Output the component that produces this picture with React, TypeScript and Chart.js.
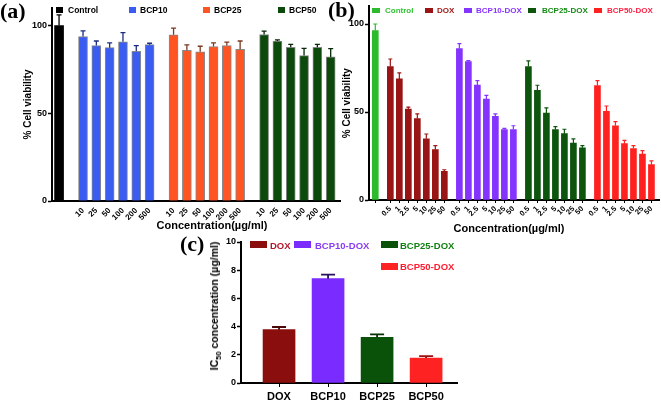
import React, { useEffect, useRef } from 'react';
import { Chart, registerables } from 'chart.js';

Chart.register(...registerables);

const FONT = "'Liberation Sans', Arial, Helvetica, sans-serif";
const SERIF = "'Liberation Serif', 'Times New Roman', serif";

// ---------------- Panel (a) data ----------------
const aConcLabels = ['10', '25', '50', '100', '200', '500'];
const aControl = [100];
const aControlErr = [6.1];
const aBCP10 = [93.7, 88.6, 87.4, 90.7, 85.3, 89.1];
const aBCP10Err = [3.3, 2.6, 2.7, 5.3, 3.3, 0.8];
const aBCP25 = [94.7, 85.9, 85.0, 88.0, 88.6, 86.5];
const aBCP25Err = [3.8, 3.1, 3.2, 2.1, 1.9, 4.7];
const aBCP50 = [94.9, 91.2, 87.6, 82.9, 87.6, 82.1];
const aBCP50Err = [1.9, 0.6, 1.7, 4.1, 1.7, 4.8];
const aYTicks = [0, 50, 100];

// ---------------- Panel (b) data ----------------
const bConcLabels = ['0.5', '1', '2.5', '5', '10', '25', '50'];
const bControl = [96.2];
const bControlErr = [3.8];
const bDOX = [75.8, 68.8, 51.7, 46.2, 34.8, 28.6, 16.3];
const bDOXErr = [4.3, 3.4, 1.1, 2.7, 2.7, 2.3, 0.9];
const bBCP10DOX = [86.0, 78.6, 65.3, 57.4, 47.5, 40.0, 40.0];
const bBCP10DOXErr = [2.8, 0.6, 2.5, 2.1, 1.4, 0.7, 2.2];
const bBCP25DOX = [75.8, 62.3, 49.4, 40.0, 37.7, 32.4, 29.7];
const bBCP25DOXErr = [3.2, 2.9, 2.9, 1.7, 2.5, 2.3, 1.2];
const bBCP50DOX = [65.0, 50.4, 42.2, 32.0, 29.2, 26.1, 20.1];
const bBCP50DOXErr = [2.8, 3.0, 2.3, 1.9, 1.7, 1.9, 2.1];
const bYTicks = [0, 50, 100];

// ---------------- Panel (c) data ----------------
const cLabels = ['DOX', 'BCP10', 'BCP25', 'BCP50'];
const cLegend = ['DOX', 'BCP10-DOX', 'BCP25-DOX', 'BCP50-DOX'];
const cIC50 = [3.78, 7.4, 3.24, 1.77];
const cIC50Err = [0.19, 0.28, 0.21, 0.14];
const cYTicks = [0, 2, 4, 6, 8, 10];

// ---------------- styles ----------------
const aColors = ['#000000', '#3a5cf0', '#ff5522', '#0b4a0b'];
const aErrColors = ['#000000', '#1e2c80', '#7a3a22', '#062806'];
const bColors = ['#2dbb2d', '#991515', '#8533ff', '#0d540d', '#ff2020'];
const bTextColors = ['#33c433', '#a01818', '#8a33ff', '#168a16', '#ff2244'];
const cColors = ['#8b0e0e', '#7a2bff', '#0a520a', '#ff2222'];
const cErrColors = ['#4a0808', '#2a1060', '#063006', '#9a1010'];
const cTextColors = ['#b3132b', '#8a3cf0', '#128012', '#ff1a2e'];

function groupPositions(sizes: number[], gap: number): number[][] {
  const out: number[][] = [];
  let x = 0;
  sizes.forEach((n) => {
    const arr: number[] = [];
    for (let i = 0; i < n; i++) arr.push(x + i);
    out.push(arr);
    x += n - 1 + gap;
  });
  return out;
}

const errorBars = {
  id: 'errorBars',
  afterDatasetsDraw(chart: any) {
    const { ctx } = chart;
    const yScale = chart.scales.y;
    chart.data.datasets.forEach((ds: any, di: number) => {
      if (!ds.errors) return;
      const meta = chart.getDatasetMeta(di);
      meta.data.forEach((bar: any, i: number) => {
        const raw = ds.data[i];
        const v = typeof raw === 'number' ? raw : raw.y;
        const yTop = yScale.getPixelForValue(v + ds.errors[i]);
        const col = Array.isArray(ds.errColor) ? ds.errColor[i] : ds.errColor;
        ctx.save();
        ctx.strokeStyle = col;
        ctx.lineWidth = ds.errWidth;
        ctx.beginPath();
        ctx.moveTo(bar.x, bar.y);
        ctx.lineTo(bar.x, yTop);
        ctx.moveTo(bar.x - ds.errCap / 2, yTop);
        ctx.lineTo(bar.x + ds.errCap / 2, yTop);
        ctx.stroke();
        ctx.restore();
      });
    });
  },
};

function yAxis(max: number, ticks: number[], width: number, title: string | null, titlePad: number) {
  return {
    min: 0,
    max,
    afterBuildTicks: (s: any) => {
      s.ticks = ticks.map((v) => ({ value: v }));
    },
    afterFit: (s: any) => {
      s.width = width;
    },
    ticks: { color: '#000', font: { family: FONT, size: 9, weight: 'bold' }, padding: 1 },
    grid: { display: true, drawOnChartArea: false, drawTicks: true, tickLength: 4, tickColor: '#000', tickWidth: 1.5 },
    border: { display: true, color: '#000', width: 2 },
    title: title
      ? { display: true, text: title, color: '#000', font: { family: FONT, size: 10, weight: 'bold' }, padding: { top: titlePad, bottom: 0 } }
      : { display: false },
  };
}

function xAxis(min: number, max: number, positions: number[], labels: string[], height: number, size: number, rotation: number, tickLen: number, tickColor: string, pad: number) {
  return {
    type: 'linear',
    min,
    max,
    offset: false,
    afterBuildTicks: (s: any) => {
      s.ticks = positions.map((v) => ({ value: v }));
    },
    afterFit: (s: any) => {
      s.height = height;
    },
    ticks: {
      autoSkip: false,
      maxRotation: rotation,
      minRotation: rotation,
      padding: pad,
      color: '#000',
      font: { family: FONT, size, weight: 'bold' },
      callback: (_v: any, i: number) => labels[i],
    },
    grid: { display: true, offset: false, drawOnChartArea: false, drawTicks: true, tickLength: tickLen, tickColor, tickWidth: 1 },
    border: { display: true, color: '#000', width: 2 },
  };
}

function baseOptions(padding: any, scales: any) {
  return {
    responsive: false,
    maintainAspectRatio: false,
    animation: false,
    devicePixelRatio: 1,
    layout: { padding },
    plugins: { legend: { display: false }, tooltip: { enabled: false } },
    scales,
  };
}

function configA(): any {
  const pos = groupPositions([1, 6, 6, 6], 1.8);
  const vals = [aControl, aBCP10, aBCP25, aBCP50];
  const errs = [aControlErr, aBCP10Err, aBCP25Err, aBCP50Err];
  const names = ['Control', 'BCP10', 'BCP25', 'BCP50'];
  const labels = [''].concat(aConcLabels, aConcLabels, aConcLabels);
  const datasets = vals.map((v, g) => ({
    label: names[g],
    data: v.map((y, i) => ({ x: pos[g][i], y })),
    backgroundColor: aColors[g],
    borderColor: 'rgba(40,40,40,0.55)',
    borderWidth: g === 0 ? 0 : 1,
    barThickness: 9,
    grouped: false,
    errors: errs[g],
    errColor: aErrColors[g],
    errWidth: 1.3,
    errCap: 5,
  }));
  return {
    type: 'bar',
    data: { datasets },
    options: baseOptions({ left: 0, right: 5, top: 8, bottom: 0 }, {
      x: xAxis(-0.53, 21.1, pos.flat(), labels, 39, 8, 45, 3, 'rgba(0,0,0,0)', 2),
      y: yAxis(110, aYTicks, 52, '% Cell viability', 22),
    }),
    plugins: [errorBars],
  };
}

function configB(): any {
  const pos = groupPositions([1, 7, 7, 7, 7], 1.67);
  const vals = [bControl, bDOX, bBCP10DOX, bBCP25DOX, bBCP50DOX];
  const errs = [bControlErr, bDOXErr, bBCP10DOXErr, bBCP25DOXErr, bBCP50DOXErr];
  const names = ['Control', 'DOX', 'BCP10-DOX', 'BCP25-DOX', 'BCP50-DOX'];
  const labels = [''].concat(bConcLabels, bConcLabels, bConcLabels, bConcLabels);
  const datasets = vals.map((v, g) => ({
    label: names[g],
    data: v.map((y, i) => ({ x: pos[g][i], y })),
    backgroundColor: bColors[g],
    borderWidth: 0,
    barThickness: 6,
    grouped: false,
    errors: errs[g],
    errColor: bColors[g],
    errWidth: 1.2,
    errCap: 4,
  }));
  return {
    type: 'bar',
    data: { datasets },
    options: baseOptions({ left: 0, right: 2, top: 6, bottom: 0 }, {
      x: xAxis(-0.7, 31.52, pos.flat(), labels, 40, 7.5, 45, 3, '#000', 1.5),
      y: yAxis(110, bYTicks, 49, '% Cell viability', 21),
    }),
    plugins: [errorBars],
  };
}

function configC(): any {
  const pos = cLabels.map((_, i) => i);
  return {
    type: 'bar',
    data: {
      datasets: [
        {
          label: 'IC50',
          data: cIC50.map((y, i) => ({ x: pos[i], y })),
          backgroundColor: cColors,
          borderWidth: 0,
          barThickness: 32,
          grouped: false,
          errors: cIC50Err,
          errColor: cErrColors,
          errWidth: 1.8,
          errCap: 14,
        },
      ],
    },
    options: baseOptions({ left: 0, right: 13, top: 7, bottom: 0 }, {
      x: xAxis(-0.776, 3.63, pos, cLabels, 19, 11, 0, 4, '#000', 3),
      y: yAxis(10, cYTicks, 61, null, 0),
    }),
    plugins: [errorBars],
  };
}

function Txt(props: { x: number; baseline: number; size: number; color?: string; align?: 'left' | 'center'; serif?: boolean; children: any }) {
  const { x, baseline, size, color = '#000', align = 'left', serif = false, children } = props;
  const k = serif ? 0.8375 : 0.8465;
  return (
    <div
      style={{
        position: 'absolute',
        left: x,
        top: baseline - k * size,
        fontFamily: serif ? SERIF : FONT,
        fontWeight: 'bold',
        fontSize: size,
        lineHeight: `${size}px`,
        color,
        whiteSpace: 'nowrap',
        transform: align === 'center' ? 'translateX(-50%)' : undefined,
      }}
    >
      {children}
    </div>
  );
}

function Marker(props: { x: number; y: number; w: number; h: number; color: string }) {
  return <div style={{ position: 'absolute', left: props.x, top: props.y, width: props.w, height: props.h, background: props.color }} />;
}

const aLegendNames = ['Control', 'BCP10', 'BCP25', 'BCP50'];
const bLegendNames = ['Control', 'DOX', 'BCP10-DOX', 'BCP25-DOX', 'BCP50-DOX'];

export default function App() {
  const aRef = useRef<HTMLCanvasElement>(null);
  const bRef = useRef<HTMLCanvasElement>(null);
  const cRef = useRef<HTMLCanvasElement>(null);

  useEffect(() => {
    const charts = [
      new Chart(aRef.current as HTMLCanvasElement, configA()),
      new Chart(bRef.current as HTMLCanvasElement, configB()),
      new Chart(cRef.current as HTMLCanvasElement, configC()),
    ];
    return () => charts.forEach((c) => c.destroy());
  }, []);

  const aMarkX = [56, 129, 203, 278];
  const aTextX = [68, 140, 214, 289];
  const bMarkX = [372, 425, 464, 528, 594];
  const bTextX = [385, 437, 476, 542, 607];
  const cMarkX = [250, 294, 381, 381];
  const cMarkY = [241, 241, 241, 263];
  const cTextX = [270, 315, 400, 400];
  const cBase = [249, 249, 249, 270.5];

  return (
    <div style={{ position: 'fixed', left: 0, top: 0, width: 661, height: 402, background: '#fff', overflow: 'hidden' }}>
      <canvas ref={aRef} width={345} height={240} style={{ position: 'absolute', left: 0, top: 0 }} />
      <canvas ref={bRef} width={341} height={240} style={{ position: 'absolute', left: 320, top: 0 }} />
      <canvas ref={cRef} width={290} height={167} style={{ position: 'absolute', left: 180, top: 235 }} />

      {/* panel labels */}
      <Txt x={0} baseline={18} size={22} serif>(a)</Txt>
      <Txt x={328} baseline={17.5} size={22} serif>(b)</Txt>
      <Txt x={180} baseline={251} size={22} serif>(c)</Txt>

      {/* legend (a) */}
      {aLegendNames.map((n, i) => (
        <React.Fragment key={'a' + n}>
          <Marker x={aMarkX[i]} y={7} w={7} h={6} color={aColors[i]} />
          <Txt x={aTextX[i]} baseline={13} size={8.5}>{n}</Txt>
        </React.Fragment>
      ))}

      {/* legend (b) */}
      {bLegendNames.map((n, i) => (
        <React.Fragment key={'b' + n}>
          <Marker x={bMarkX[i]} y={8} w={8} h={5} color={bColors[i]} />
          <Txt x={bTextX[i]} baseline={13.3} size={8} color={bTextColors[i]}>{n}</Txt>
        </React.Fragment>
      ))}

      {/* legend (c) */}
      {cLegend.map((n, i) => (
        <React.Fragment key={'c' + n}>
          <Marker x={cMarkX[i]} y={cMarkY[i]} w={17} h={7} color={cColors[i]} />
          <Txt x={cTextX[i]} baseline={cBase[i]} size={9.5} color={cTextColors[i]}>{n}</Txt>
        </React.Fragment>
      ))}

      {/* x titles */}
      <Txt x={212} baseline={229} size={11} align="center">Concentration(µg/ml)</Txt>
      <Txt x={509} baseline={232} size={11} align="center">Concentration(µg/ml)</Txt>

      {/* y title (c) */}
      <div
        style={{
          position: 'absolute',
          left: 215,
          top: 306,
          transform: 'translate(-50%, -50%) rotate(-90deg)',
          fontFamily: FONT,
          fontWeight: 'bold',
          fontSize: 10.5,
          lineHeight: '12px',
          whiteSpace: 'nowrap',
          color: '#000',
        }}
      >
        IC<span style={{ fontSize: 7.5, position: 'relative', top: 2.5 }}>50</span> concentration (µg/ml)
      </div>
    </div>
  );
}
